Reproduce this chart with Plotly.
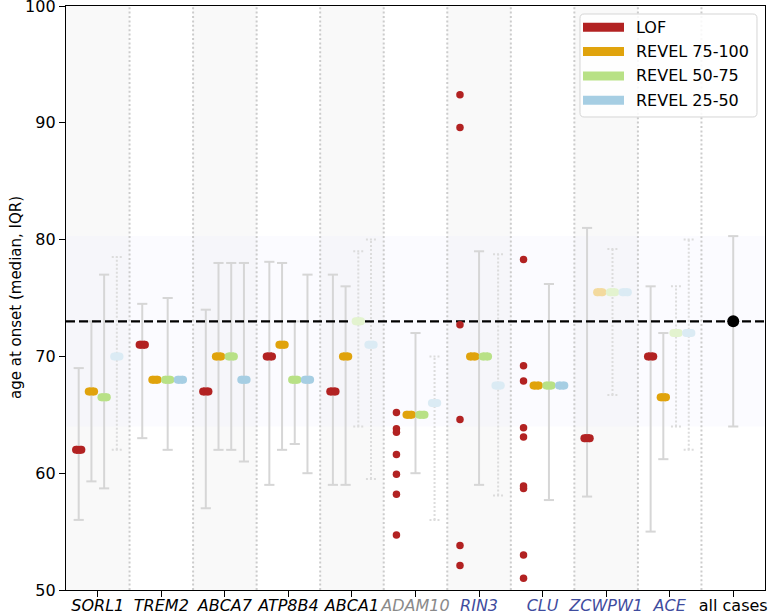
import plotly.graph_objects as go

# ---------------- data ----------------
GENES = ["SORL1", "TREM2", "ABCA7", "ATP8B4", "ABCA1", "ADAM10", "RIN3", "CLU", "ZCWPW1", "ACE"]
ALL_LABEL = "all cases"
LABEL_COLORS = ["black", "black", "black", "black", "black", "#8a8a8a",
                "#3f4c9e", "#3f4c9e", "#3f4c9e", "#3f4c9e"]

SERIES = ["LOF", "REVEL 75-100", "REVEL 50-75", "REVEL 25-50"]

LOF_MED = [62, 71, 67, 70, 67, None, None, None, 63, 70]
LOF_Q1 = [56, 63, 57, 59, 59, None, None, None, 58, 55]
LOF_Q3 = [69, 74.5, 74, 78.1, 77, None, None, None, 81, 76]

R75_MED = [67, 68, 70, 71, 70, 65, 70, 67.5, 75.5, 66.5]
R75_Q1 = [59.3, None, 62, 62, 59, 60, 59, None, None, 61.2]
R75_Q3 = [73, None, 78, 78, 76, 72, 79, None, None, 72]

R50_MED = [66.5, 68, 70, 68, 73, 65, 70, 67.5, 75.5, 72]
R50_Q1 = [58.7, 62, 62, 62.5, 64, None, None, 57.7, 66.7, 64]
R50_Q3 = [77, 75, 78, 73, 79, None, None, 76.2, 79.2, 76]

R25_MED = [70, 68, 68, 68, 71, 66, 67.5, 67.5, 75.5, 72]
R25_Q1 = [62, None, 61, 60, 59.5, 56, 58.1, None, None, 62]
R25_Q3 = [78.5, None, 78, 77, 80, 70, 78.75, None, None, 80]

# low-confidence (faded) estimates per series
LOF_FADED = []
R75_FADED = ["ZCWPW1"]
R50_FADED = ["ABCA1", "ZCWPW1", "ACE"]
R25_FADED = ["SORL1", "ABCA1", "ADAM10", "RIN3", "ZCWPW1", "ACE"]

# individual LOF ages where only a few carriers exist
LOF_POINTS = {
    "ADAM10": [65.2, 63.8, 63.5, 61.6, 59.9, 58.2, 54.7],
    "RIN3": [92.4, 89.6, 72.7, 64.6, 53.8, 52.1],
    "CLU": [78.3, 69.2, 67.9, 63.9, 63.1, 58.9, 58.7, 53.0, 51.0],
}

ALL_MED = 73
ALL_Q1 = 64
ALL_Q3 = 80.3

# ---------------- styling ----------------
COLORS = ["#b22222", "#e0a30c", "#b8e186", "#a6cee3"]
OFFSETS = [-0.3, -0.1, 0.1, 0.3]
WHISKER_SHIFT = {("ADAM10", 1): 0.1, ("RIN3", 1): 0.1}
FONT = "DejaVu Sans"
XR = [-0.5, len(GENES) + 0.5]
W, H = 769, 615
ML, MR, MT, MB = 66, 4, 6, 25
PW, PH = W - ML - MR, H - MT - MB


def blend(c, a):
    r, g, b = int(c[1:3], 16), int(c[3:5], 16), int(c[5:7], 16)
    return "rgb(%d,%d,%d)" % (round(255 - (255 - r) * a), round(255 - (255 - g) * a), round(255 - (255 - b) * a))


def px2paper(px, py):
    return (px - ML) / PW, (H - MB - py) / PH


series_data = [
    (LOF_MED, LOF_Q1, LOF_Q3, LOF_FADED),
    (R75_MED, R75_Q1, R75_Q3, R75_FADED),
    (R50_MED, R50_Q1, R50_Q3, R50_FADED),
    (R25_MED, R25_Q1, R25_Q3, R25_FADED),
]

fig = go.Figure()

CAP = 0.08
wx_s, wy_s, wx_d, wy_d = [], [], [], []


def add_whisker(xs, ys, x, lo, hi):
    xs += [x, x, None, x - CAP, x + CAP, None, x - CAP, x + CAP, None]
    ys += [lo, hi, None, lo, lo, None, hi, hi, None]


for si, (med, q1, q3, faded) in enumerate(series_data):
    for gi, g in enumerate(GENES):
        if q1[gi] is None or q3[gi] is None:
            continue
        x = gi + OFFSETS[si] + WHISKER_SHIFT.get((g, si), 0)
        if g in faded:
            add_whisker(wx_d, wy_d, x, q1[gi], q3[gi])
        else:
            add_whisker(wx_s, wy_s, x, q1[gi], q3[gi])
add_whisker(wx_s, wy_s, len(GENES), ALL_Q1, ALL_Q3)

fig.add_trace(go.Scatter(x=wx_s, y=wy_s, mode="lines", line=dict(color="#d6d6d6", width=2),
                         showlegend=False, hoverinfo="skip"))
fig.add_trace(go.Scatter(x=wx_d, y=wy_d, mode="lines", line=dict(color="#dcdcdc", width=2, dash="2px,2px"),
                         showlegend=False, hoverinfo="skip"))

# overall median reference line
fig.add_trace(go.Scatter(x=XR, y=[ALL_MED, ALL_MED], mode="lines",
                         line=dict(color="black", width=2.2, dash="9px,4px"),
                         showlegend=False, hoverinfo="skip"))

# median pills
HALF = 0.042
for si, (med, q1, q3, faded) in enumerate(series_data):
    for is_faded in (False, True):
        xs, ys = [], []
        for gi, g in enumerate(GENES):
            if med[gi] is None or ((g in faded) != is_faded):
                continue
            x = gi + OFFSETS[si]
            xs += [x - HALF, x + HALF, None]
            ys += [med[gi], med[gi], None]
        if not xs:
            continue
        col = blend(COLORS[si], 0.4) if is_faded else COLORS[si]
        fig.add_trace(go.Scatter(x=xs, y=ys, mode="lines+markers",
                                 line=dict(color=col, width=8),
                                 marker=dict(color=col, size=8, line=dict(width=0)),
                                 showlegend=False, hoverinfo="skip"))

# individual LOF points
px, py = [], []
for g, vals in LOF_POINTS.items():
    gi = GENES.index(g)
    px += [gi + OFFSETS[0]] * len(vals)
    py += vals
fig.add_trace(go.Scatter(x=px, y=py, mode="markers",
                         marker=dict(color=COLORS[0], size=7.5, line=dict(width=0)),
                         showlegend=False, hoverinfo="skip"))

# all cases
fig.add_trace(go.Scatter(x=[len(GENES)], y=[ALL_MED], mode="markers",
                         marker=dict(color="black", size=12, line=dict(width=0)),
                         showlegend=False, hoverinfo="skip"))

# background shapes
shapes = []
for gi in range(0, len(GENES), 2):
    shapes.append(dict(type="rect", xref="x", yref="paper", x0=gi - 0.5, x1=gi + 0.5, y0=0, y1=1,
                       fillcolor="#f9f9f9", line=dict(width=0), layer="below"))
shapes.append(dict(type="rect", xref="paper", yref="y", x0=0, x1=1, y0=ALL_Q1, y1=ALL_Q3,
                   fillcolor="rgba(235,235,255,0.18)", line=dict(width=0), layer="below"))
for gi in range(len(GENES)):
    shapes.append(dict(type="line", xref="x", yref="paper", x0=gi + 0.5, x1=gi + 0.5, y0=0, y1=1,
                       line=dict(color="#cccccc", width=2, dash="2px,2.4px"), layer="below"))

# legend (drawn manually to match the reference box)
annotations = []
bx0, by0 = px2paper(580, 117)
bx1, by1 = px2paper(757, 14)
r = 0.006
ry = r * PW / PH
shapes.append(dict(type="path", xref="paper", yref="paper", layer="above",
                   path=("M %f,%f L %f,%f Q %f,%f %f,%f L %f,%f Q %f,%f %f,%f L %f,%f Q %f,%f %f,%f "
                         "L %f,%f Q %f,%f %f,%f Z") % (
                       bx0 + r, by0, bx1 - r, by0, bx1, by0, bx1, by0 + ry,
                       bx1, by1 - ry, bx1, by1, bx1 - r, by1,
                       bx0 + r, by1, bx0, by1, bx0, by1 - ry,
                       bx0, by0 + ry, bx0, by0, bx0 + r, by0),
                   fillcolor="rgba(255,255,255,0.85)", line=dict(color="#d5d5d5", width=1)))
for si, name in enumerate(SERIES):
    cy = 27.3 + si * 24.3
    sx0, sy = px2paper(583, cy)
    sx1, _ = px2paper(624, cy)
    shapes.append(dict(type="line", xref="paper", yref="paper", x0=sx0, x1=sx1, y0=sy, y1=sy,
                       line=dict(color=COLORS[si], width=9), layer="above"))
    tx, _ = px2paper(634, cy)
    annotations.append(dict(xref="paper", yref="paper", x=tx, y=sy, xanchor="left", yanchor="middle",
                            text=name, showarrow=False, font=dict(family=FONT, size=16, color="black")))

# y-axis title
tx, _ = px2paper(16, 0)
annotations.append(dict(xref="paper", yref="paper", x=tx, y=0.5, xanchor="center", yanchor="middle",
                        text="age at onset (median, IQR)", textangle=-90, showarrow=False,
                        font=dict(family=FONT, size=15, color="black")))

ticktext = []
for g, c in zip(GENES, LABEL_COLORS):
    ticktext.append("<i><span style='color:%s'>%s</span></i>" % (c, g))
ticktext.append(ALL_LABEL)

fig.update_layout(
    width=W, height=H,
    margin=dict(l=ML, r=MR, t=MT, b=MB),
    plot_bgcolor="white", paper_bgcolor="white",
    font=dict(family=FONT, color="black", size=15),
    shapes=shapes,
    annotations=annotations,
    showlegend=False,
    xaxis=dict(range=XR, tickvals=list(range(len(GENES) + 1)), ticktext=ticktext, tickangle=0,
               ticks="outside", ticklen=6, tickcolor="black", tickwidth=1.3, automargin=False,
               ticklabeloverflow="allow", ticklabelstandoff=-5,
               showline=True, linecolor="black", linewidth=1.3, mirror=True,
               showgrid=False, zeroline=False, tickfont=dict(size=16, family=FONT)),
    yaxis=dict(range=[50, 100], tickvals=[50, 60, 70, 80, 90, 100], automargin=False,
               ticklabeloverflow="allow",
               ticks="outside", ticklen=6, tickcolor="black", tickwidth=1.3,
               showline=True, linecolor="black", linewidth=1.3, mirror=True,
               showgrid=False, zeroline=False, tickfont=dict(size=16, family=FONT)),
)

fig.write_html("out.html", config={"displayModeBar": False},
               post_script="document.body.style.margin='0';document.body.style.overflow='hidden';")
